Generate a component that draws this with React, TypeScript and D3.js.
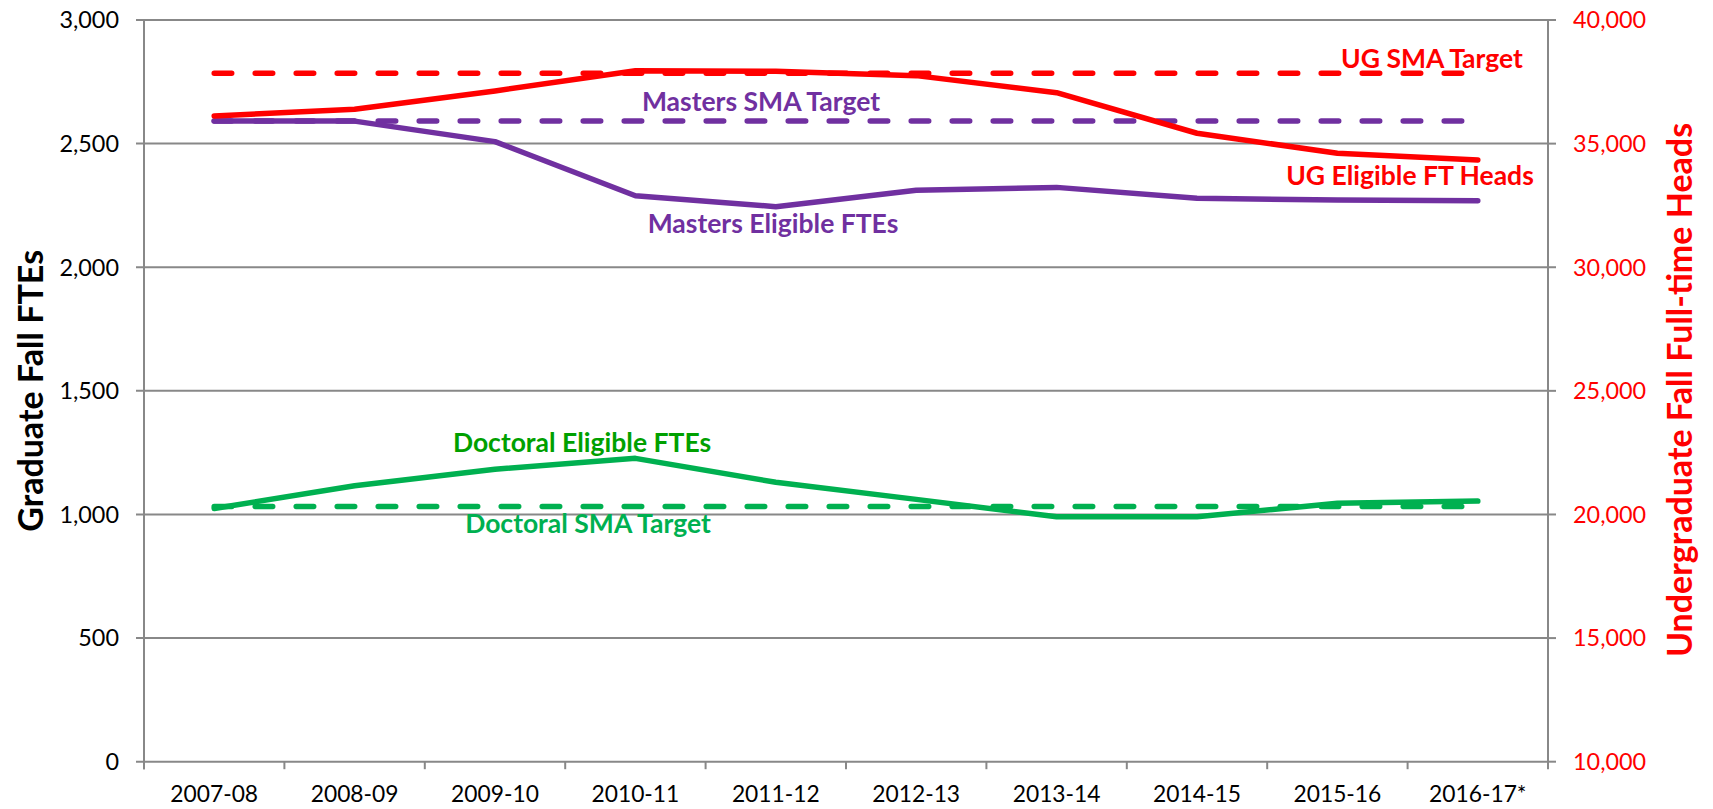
import * as d3 from "d3";

const categories = [
  "2007-08",
  "2008-09",
  "2009-10",
  "2010-11",
  "2011-12",
  "2012-13",
  "2013-14",
  "2014-15",
  "2015-16",
  "2016-17*",
];

// left axis (graduate FTEs)
const mastersFTEs = [2591, 2591, 2508, 2289, 2245, 2311, 2323, 2279, 2272, 2269];
const mastersTarget = [2591, 2591, 2591, 2591, 2591, 2591, 2591, 2591, 2591, 2591];
const doctoralFTEs = [1024, 1116, 1183, 1227, 1130, 1061, 991, 991, 1045, 1054];
const doctoralTarget = [1032, 1032, 1032, 1032, 1032, 1032, 1032, 1032, 1032, 1032];

// right axis (undergraduate heads)
const ugHeads = [36120, 36390, 37130, 37950, 37930, 37750, 37060, 35420, 34610, 34340];
const ugTarget = [37850, 37850, 37850, 37850, 37850, 37850, 37850, 37850, 37850, 37850];

const leftTicks = [0, 500, 1000, 1500, 2000, 2500, 3000];
const rightTicks = [10000, 15000, 20000, 25000, 30000, 35000, 40000];

const W = 1713;
const H = 809;
const margin = { top: 20, right: 165, bottom: 47.3, left: 144 };

const RED = "#ff0000";
const PURPLE = "#7030a0";
const GREEN = "#00b050";
const DARK_GREEN = "#00a000";
const GRID = "#888888";
const FONT = "Lato, 'Open Sans', sans-serif";

export default function App() {
  const x0 = margin.left;
  const x1 = W - margin.right;
  const y0 = H - margin.bottom;
  const y1 = margin.top;

  const x = d3.scaleBand<string>().domain(categories).range([x0, x1]);
  const cx = (c: string) => (x(c) ?? 0) + x.bandwidth() / 2;
  const yL = d3.scaleLinear().domain([0, 3000]).range([y0, y1]);
  const yR = d3.scaleLinear().domain([10000, 40000]).range([y0, y1]);

  const lineL = d3
    .line<number>()
    .x((_, i) => cx(categories[i]))
    .y((d) => yL(d));
  const lineR = d3
    .line<number>()
    .x((_, i) => cx(categories[i]))
    .y((d) => yR(d));

  const fmt = d3.format(",");
  const dash = "17.5,23.5";

  const series = [
    { d: lineR(ugTarget), color: RED, dashed: true },
    { d: lineL(mastersTarget), color: PURPLE, dashed: true },
    { d: lineL(doctoralTarget), color: GREEN, dashed: true },
    { d: lineL(doctoralFTEs), color: GREEN, dashed: false },
    { d: lineL(mastersFTEs), color: PURPLE, dashed: false },
    { d: lineR(ugHeads), color: RED, dashed: false },
  ];

  // line labels, anchored at a category position and pixel baseline
  const labels = [
    { text: "UG SMA Target", cx: 1432, y: 68, color: RED },
    { text: "Masters SMA Target", cx: 761, y: 111, color: PURPLE },
    { text: "UG Eligible FT Heads", cx: 1410, y: 185, color: RED },
    { text: "Masters Eligible FTEs", cx: 773, y: 233, color: PURPLE },
    { text: "Doctoral Eligible FTEs", cx: 582, y: 452, color: DARK_GREEN },
    { text: "Doctoral SMA Target", cx: 588, y: 533, color: GREEN },
  ];

  return (
    <svg
      width={W}
      height={H}
      style={{ position: "absolute", left: 0, top: 0, background: "#fff" }}
      fontFamily={FONT}
    >
      {/* gridlines + left ticks */}
      {leftTicks.map((t) => (
        <g key={t}>
          <line x1={x0 - 8} x2={x1} y1={yL(t)} y2={yL(t)} stroke={GRID} strokeWidth={2} />
          <text x={x0 - 25} y={yL(t)} dy={8.4} textAnchor="end" fontSize={23.4} fill="#000">
            {fmt(t)}
          </text>
        </g>
      ))}
      {/* right ticks */}
      {rightTicks.map((t) => (
        <g key={t}>
          <line x1={x1} x2={x1 + 8} y1={yR(t)} y2={yR(t)} stroke={GRID} strokeWidth={2} />
          <text x={x1 + 25} y={yR(t)} dy={8.4} fontSize={23.4} fill={RED}>
            {fmt(t)}
          </text>
        </g>
      ))}
      {/* axes */}
      <line x1={x0} x2={x0} y1={y1} y2={y0 + 7.5} stroke={GRID} strokeWidth={2} />
      <line x1={x1} x2={x1} y1={y1} y2={y0 + 7.5} stroke={GRID} strokeWidth={2} />
      {categories.map((c) => (
        <line
          key={c}
          x1={x(c)}
          x2={x(c)}
          y1={y0}
          y2={y0 + 7.5}
          stroke={GRID}
          strokeWidth={2}
        />
      ))}
      {categories.map((c) => (
        <text key={c} x={cx(c)} y={802} textAnchor="middle" fontSize={22.8} fill="#000">
          {c}
        </text>
      ))}

      {/* series */}
      {series.map((s, i) => (
        <path
          key={i}
          d={s.d ?? ""}
          fill="none"
          stroke={s.color}
          strokeWidth={5.5}
          strokeLinecap="round"
          strokeLinejoin="round"
          strokeDasharray={s.dashed ? dash : undefined}
        />
      ))}

      {labels.map((l) => (
        <text
          key={l.text}
          x={l.cx}
          y={l.y}
          textAnchor="middle"
          fontSize={26.5}
          fontWeight="bold"
          fill={l.color}
        >
          {l.text}
        </text>
      ))}

      {/* axis titles */}
      <text
        transform={`translate(43,${(y0 + y1) / 2 + 0}) rotate(-90)`}
        textAnchor="middle"
        fontSize={34}
        fontWeight="bold"
        fill="#000"
      >
        Graduate Fall FTEs
      </text>
      <text
        transform={`translate(1692,${390}) rotate(-90)`}
        textAnchor="middle"
        fontSize={34}
        fontWeight="bold"
        fill={RED}
      >
        Undergraduate Fall Full-time Heads
      </text>
    </svg>
  );
}
